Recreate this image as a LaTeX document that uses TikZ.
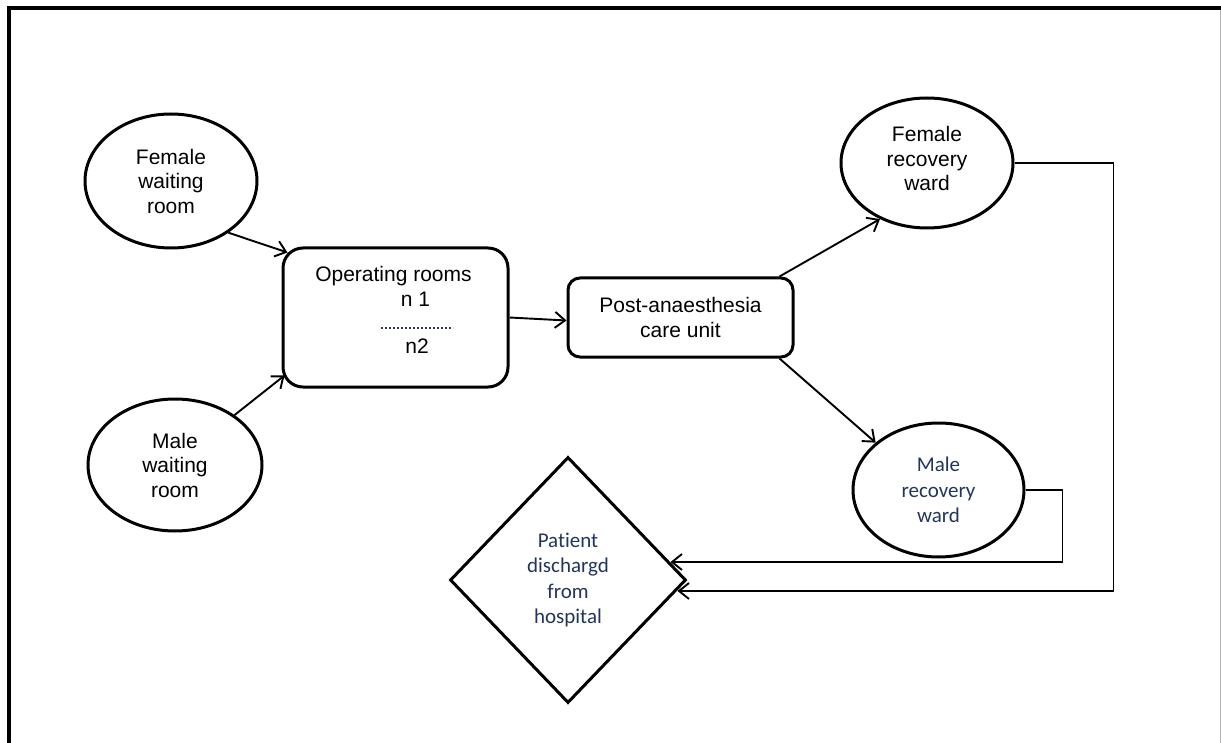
\documentclass[tikz,border=0pt]{standalone}
\usepackage{fontspec}
\setmainfont{Liberation Sans}
\newfontfamily\calib[Ligatures=NoCommon]{Carlito}
\usetikzlibrary{shapes.geometric,arrows.meta,calc}
\definecolor{inkblue}{HTML}{22355A}
\definecolor{edgegray}{HTML}{B4B4B4}
\definecolor{dotgray}{HTML}{2E3850}

\begin{document}
\begin{tikzpicture}[x=1pt,y=-1pt,
  every node/.style={font=\fontsize{21}{24.5}\selectfont, align=center, inner sep=0pt},
  place/.style={ellipse, draw, line width=3pt, minimum width=172pt, minimum height=134pt},
  room/.style={draw, line width=3pt, rounded corners=20pt},
  flow/.style={line width=1.9pt, -{Straight Barb[length=10pt,width=16pt,line width=1.9pt]}},
  calibri/.style={font=\calib\fontsize{21}{25.5}\selectfont, text=inkblue}]
\useasboundingbox (0,0) rectangle (1221,743);

% page frame
\draw[line width=4pt] (9,743) -- (9,8) -- (1221,8);
\draw[edgegray, line width=1pt] (1220.5,10) -- (1220.5,743);

% waiting rooms
\node[place] (fw) at (171,181) {Female\\waiting\\room};
\node[place, minimum width=174pt, minimum height=132pt] (mw) at (175,465) {Male\\waiting\\room};

% operating rooms
\node[room, minimum width=225pt, minimum height=139pt] (or) at (395.5,317.5) {};
\node[anchor=base] (ortitle) at (393.5,282) {Operating rooms};
\node[anchor=base] (orn1) at (415.5,307) {n 1};
\node[anchor=base] (orn2) at (417,353) {n2};
\draw[dotgray, line width=1.3pt, dash pattern=on 1.6pt off 2.4pt] (381,328) -- (453,328);

% post-anaesthesia care unit
\node[room, rounded corners=12pt, minimum width=225pt, minimum height=79pt] (pacu) at (680.5,317.5) {Post-anaesthesia\\care unit};

% recovery wards
\node[place, minimum width=172pt, minimum height=130pt] (fr) at (927,163) {Female\\recovery\\ward\\[-16pt]\mbox{}};
\node[place, calibri, minimum width=171pt, minimum height=134pt] (mr) at (938.5,490) {Male\\recovery\\ward};

% discharge
\node[diamond, draw, line width=3pt, calibri, minimum width=236pt, minimum height=246pt] (dg) at (568,580) {Patient\\dischargd\\from\\hospital};

% flows
\draw[flow] (fw.-42) -- ($(or.north west)+(6,6)$);
\draw[flow] (mw.40) -- ($(or.south west)+(3,-13)$);
\draw[flow] (or.east) -- ($(pacu.west)+(0,3)$);
\draw[flow] ($(pacu.north east)+(-15,0)$) -- (fr.-130);
\draw[flow] ($(pacu.south east)+(-15,0)$) -- (mr.143);
\draw[flow] (fr.east) -- ++(99,0) |- ($(dg.east)+(-10,11)$);
\draw[flow] (mr.east) -- ++(37,0) |- ($(dg.east)+(-17,-18)$);
\end{tikzpicture}
\end{document}
